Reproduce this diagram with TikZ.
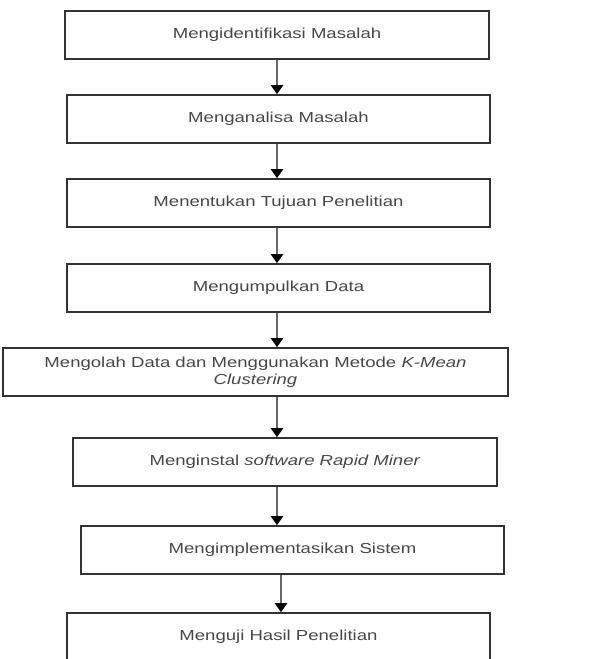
\documentclass[tikz,border=0pt]{standalone}
\usepackage{fontspec}
\setmainfont{Liberation Sans}
\usetikzlibrary{arrows.meta}
\newcommand{\wide}[1]{\scalebox{1.28}[1]{#1}}

\begin{document}
\begin{tikzpicture}[x=1pt,y=-1pt,
 stepbox/.style={draw=black!80,line width=1.6pt,inner sep=0pt,minimum height=48pt,
   text=black!72,font=\fontsize{14.5}{17}\selectfont,align=center},
 flow/.style={black!60,line width=2.6pt,-{Triangle[length=9pt,width=12pt,color=black]}}]
 \useasboundingbox (0,0) rectangle (605,659);
 \coordinate (ax) at (277,0);
 \coordinate (ax2) at (281,0);
 \foreach \x/\y/\w/\id/\txt in {
277/35/424/b1/{\wide{Mengidentifikasi Masalah}},
278.5/119/423/b2/{\wide{Menganalisa Masalah}},
278.5/203/423/b3/{\wide{Menentukan Tujuan Penelitian}},
278.5/288/423/b4/{\wide{Mengumpulkan Data}},
255.5/372/505/b5/{\wide{Mengolah Data dan Menggunakan Metode \textit{K-Mean}}\\\wide{\textit{Clustering}}},
285/462/424/b6/{\wide{Menginstal \textit{software Rapid Miner}}},
292.5/550/423/b7/{\wide{Mengimplementasikan Sistem}},
278.5/637/423/b8/{\wide{Menguji Hasil Penelitian}}} {
  \node[stepbox,minimum width=\w pt] (\id) at (\x,\y) {\txt};
 }
 \foreach \a/\b in {b1/b2,b2/b3,b3/b4,b4/b5,b5/b6,b6/b7} {
  \draw[flow] (\a.south -| ax) -- (\b.north -| ax);
 }
 \draw[flow] (b7.south -| ax2) -- (b8.north -| ax2);
\end{tikzpicture}
\end{document}
